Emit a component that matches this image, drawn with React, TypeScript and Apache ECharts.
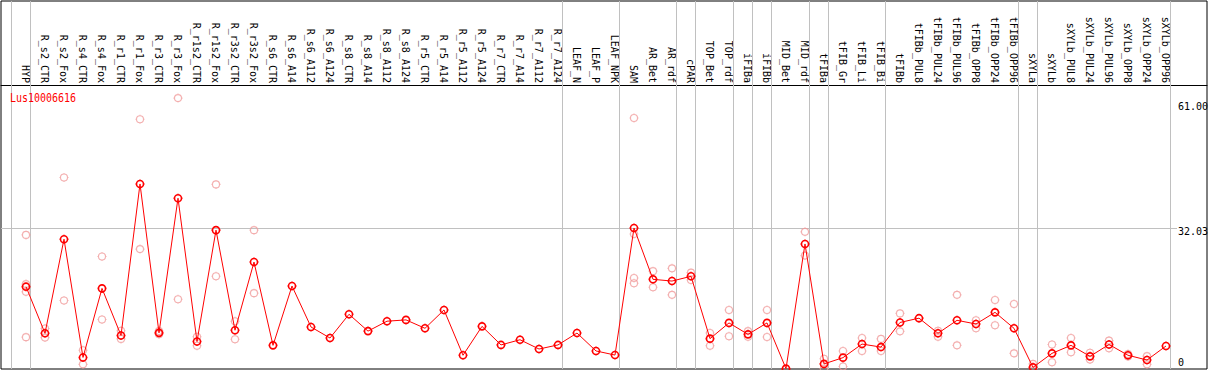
import React, { useEffect, useRef } from "react";
import * as echarts from "echarts";

const CATEGORIES = [
  "HYP", "R_s2_CTR", "R_s2_Fox", "R_s4_CTR", "R_s4_Fox", "R_r1_CTR", "R_r1_Fox", "R_r3_CTR", "R_r3_Fox",
  "R_r1s2_CTR", "R_r1s2_Fox", "R_r3s2_CTR", "R_r3s2_Fox", "R_s6_CTR", "R_s6_A14", "R_s6_A112", "R_s6_A124",
  "R_s8_CTR", "R_s8_A14", "R_s8_A112", "R_s8_A124", "R_r5_CTR", "R_r5_A14", "R_r5_A112", "R_r5_A124",
  "R_r7_CTR", "R_r7_A14", "R_r7_A112", "R_r7_A124", "LEAF_N", "LEAF_P", "LEAF_NPK", "SAM", "AR_Bet", "AR_rdf",
  "cPAR", "TOP_Bet", "TOP_rdf", "iFIBa", "iFIBb", "MID_Bet", "MID_rdf", "tFIBa", "tFIB_Gr", "tFIB_Li", "tFIB_Bi",
  "tFIBb", "tFIBb_PUL8", "tFIBb_PUL24", "tFIBb_PUL96", "tFIBb_OPP8", "tFIBb_OPP24", "tFIBb_OPP96", "sXYLa",
  "sXYLb", "sXYLb_PUL8", "sXYLb_PUL24", "sXYLb_PUL96", "sXYLb_OPP8", "sXYLb_OPP24", "sXYLb_OPP96",
];

const MEAN_VALUES = [
  18.5, 7.7, 29.5, 2.1, 18.1, 7.2, 42.3, 7.8, 39.0, 5.8, 31.6, 8.4, 24.2, 4.9, 18.65, 9.15, 6.6,
  12.1, 8.2, 10.5, 10.8, 8.85, 13.1, 2.6, 9.3, 5.0, 6.2, 4.05, 5.0, 7.75, 3.6, 2.65, 32.1, 20.2, 19.8,
  20.9, 6.45, 10.1, 7.45, 10.1, -0.5, 28.4, 0.6, 2.05, 5.2, 4.5, 10.2, 11.2, 7.7, 10.7, 9.85, 12.55, 8.85,
  -0.2, 3.05, 4.9, 2.35, 5.1, 2.6, 1.5, 4.75,
];

const REPLICATES: number[][] = [
  [30.5, 19.1, 17.3, 6.8], [8.8, 6.7], [43.8, 15.3], [3.75, 0.5], [25.5, 10.9], [8.3, 6.4],
  [57.3, 27.2], [8.2, 7.5], [62.2, 15.6], [6.9, 4.8], [42.2, 20.9], [10.5, 6.3], [31.6, 17.0],
  [], [], [], [], [], [], [], [], [], [], [], [], [], [], [], [], [], [], [],
  [57.6, 30.7, 20.5, 19.3], [22.1, 18.35], [22.75, 16.6], [21.75, 20.05], [7.75, 4.8], [13.1, 7.0],
  [8.2, 6.9], [13.1, 6.85], [], [31.2, 25.7], [1.8, -0.5], [3.6, 0.0], [6.6, 3.6], [6.4, 3.6],
  [12.3, 8.15], [], [8.3, 6.9], [16.6, 4.9], [10.7, 8.85], [15.4, 9.55], [14.5, 3.05], [0.6],
  [5.1, 1.0], [6.6, 3.3], [3.2, 1.6], [6.0, 4.2], [2.9, 2.3], [2.4, 0.5], [],
];

// index of the last column of each group (-1 = left edge)
const GROUP_ENDS = [-1, 0, 28, 31, 34, 35, 37, 38, 39, 41, 42, 45, 52, 53, 60];

const Y_TICKS = [0, 32.03, 61.0];
const Y_TICK_LABELS = ["0", "32.03", "61.00"];
const GENE = "Lus10006616";

// layout
const W = 1209;
const H = 370;
const GRID_LEFT = 1;
const GRID_RIGHT = 2;
const GRID_TOP = 1;
const GRID_BOTTOM = 1;
const COL0_PX = 26;
const COL_STEP = 19;
const X_MIN = -(COL0_PX - GRID_LEFT) / COL_STEP;
const X_MAX = X_MIN + (W - GRID_LEFT - GRID_RIGHT) / COL_STEP;
const LABEL_SHIFT = 0.8 / COL_STEP;
const SEP_SHIFT = 4.5 / COL_STEP;
const Y_MIN = -0.58;
const Y_MAX = 84.7;
const HEADER_OFFSET = -84.5;
const MONO = "'DejaVu Sans Mono', monospace";

const SYMBOL =
  "path://M0,-4.5L0,-3.5M0,3.5L0,4.5M-4.5,0L-3.5,0M3.5,0L4.5,0M3.5,0A3.5,3.5,0,1,1,-3.5,0A3.5,3.5,0,1,1,3.5,0Z";

export default function App() {
  const ref = useRef<HTMLDivElement>(null);
  useEffect(() => {
    if (!ref.current) return;
    const chart = echarts.init(ref.current, null, { renderer: "svg" });
    const lineData = MEAN_VALUES.map((v, i) => [i, v]);
    const repData = REPLICATES.flatMap((vals, i) => vals.map((v) => [i, v]));
    chart.setOption({
      animation: false,
      grid: {
        left: GRID_LEFT,
        right: GRID_RIGHT,
        top: GRID_TOP,
        bottom: GRID_BOTTOM,
        show: true,
        borderColor: "#000",
        borderWidth: 1,
        backgroundColor: "#fff",
      },
      xAxis: [
        {
          type: "value",
          min: X_MIN,
          max: X_MAX,
          position: "top",
          offset: HEADER_OFFSET,
          axisLine: { show: true, onZero: false, lineStyle: { color: "#000", width: 1 } },
          axisTick: { show: false },
          axisLabel: { show: false },
          splitLine: { show: false },
        },
        {
          type: "value",
          min: X_MIN + LABEL_SHIFT,
          max: X_MAX + LABEL_SHIFT,
          position: "top",
          offset: HEADER_OFFSET,
          axisLine: { show: false, onZero: false },
          axisTick: { show: false },
          splitLine: { show: false },
          axisLabel: {
            show: true,
            customValues: CATEGORIES.map((_, i) => i),
            rotate: 90,
            margin: 2.5,
            fontFamily: MONO,
            fontSize: 10,
            color: "#000",
            formatter: (v: number) => CATEGORIES[Math.round(v)] ?? "",
          },
        },
      ],
      yAxis: {
        type: "value",
        min: Y_MIN,
        max: Y_MAX,
        show: false,
        splitLine: { show: false },
      },
      series: [
        {
          type: "scatter",
          name: "replicates",
          xAxisIndex: 0,
          data: repData,
          symbol: SYMBOL,
          symbolSize: 9,
          z: 3,
          itemStyle: { color: "rgba(0,0,0,0)", borderColor: "#f09a9a", borderWidth: 1.1 },
          markLine: {
            silent: true,
            z: 1,
            symbol: ["none", "none"],
            label: { show: false },
            lineStyle: { color: "#c0c0c0", type: "solid", width: 1 },
            data: GROUP_ENDS.map((b) => ({ xAxis: b + SEP_SHIFT })),
          },
        },
        {
          type: "line",
          name: GENE,
          xAxisIndex: 0,
          data: lineData,
          symbol: SYMBOL,
          symbolSize: 9,
          showAllSymbol: true,
          z: 4,
          lineStyle: { color: "#ff0000", width: 1 },
          itemStyle: { color: "rgba(0,0,0,0)", borderColor: "#ff0000", borderWidth: 1.6 },
        },
      ],
    });

    const yPx = (v: number) => chart.convertToPixel({ yAxisIndex: 0 }, v) as number;
    const gridY = yPx(Y_TICKS[1]);
    chart.setOption({
      graphic: [
        {
          type: "line",
          z: 1,
          silent: true,
          shape: { x1: GRID_LEFT, y1: Math.round(gridY) + 0.5, x2: 1177, y2: Math.round(gridY) + 0.5 },
          style: { stroke: "#c0c0c0", lineWidth: 1 },
        },
        ...Y_TICKS.map((v, i) => ({
          type: "text",
          z: 10,
          silent: true,
          x: 1178,
          y: i === 0 ? yPx(v) + 1 : yPx(v) - 2,
          style: {
            text: Y_TICK_LABELS[i],
            fill: "#000",
            font: `10px ${MONO}`,
            textAlign: "left",
            verticalAlign: i === 0 ? "bottom" : "top",
          },
        })),
        {
          type: "text",
          z: 10,
          silent: true,
          x: 10,
          y: 104.5,
          scaleY: 1.25,
          style: {
            text: GENE,
            fill: "#ff0000",
            font: `10px ${MONO}`,
            textAlign: "left",
            verticalAlign: "bottom",
          },
        },
      ],
    });
    return () => chart.dispose();
  }, []);
  return (
    <div
      ref={ref}
      style={{ position: "absolute", left: 0, top: 0, width: W, height: H, background: "#fff" }}
    />
  );
}
